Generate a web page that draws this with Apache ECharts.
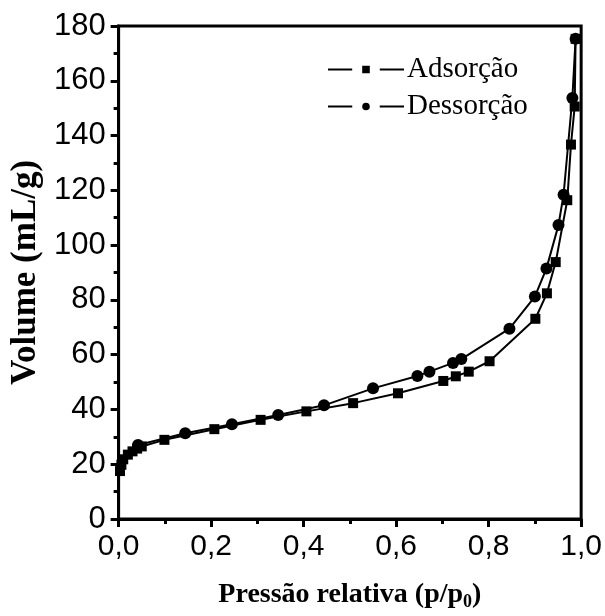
<!DOCTYPE html>
<html>
<head>
<meta charset="utf-8">
<script src="https://cdn.jsdelivr.net/npm/echarts@6/dist/echarts.min.js"></script>
<style>
  html, body { margin: 0; padding: 0; background: #fff; }
  #chart { width: 605px; height: 616px; }
</style>
</head>
<body>
<div id="chart"></div>
<script>
// Nitrogen isotherm: relative pressure (p/p0) vs adsorbed volume (mL/g)
const seriesNames = ['Adsorção', 'Dessorção'];

const adsorcaoP = [0.003, 0.006, 0.010, 0.020, 0.030, 0.040, 0.050, 0.099, 0.207, 0.307,
                   0.406, 0.507, 0.604, 0.702, 0.729, 0.757, 0.802, 0.901, 0.926, 0.945,
                   0.970, 0.978, 0.986, 0.988];
const adsorcaoV = [17.5, 19.8, 21.8, 23.5, 24.7, 25.7, 26.5, 28.9, 32.8, 36.2,
                   39.3, 42.3, 45.9, 50.4, 52.1, 53.8, 57.6, 73.1, 82.4, 93.8,
                   116.4, 136.7, 150.6, 175.3];

const dessorcaoP = [0.988, 0.981, 0.962, 0.951, 0.925, 0.900, 0.845, 0.741, 0.723, 0.672,
                    0.646, 0.550, 0.444, 0.345, 0.245, 0.144, 0.042];
const dessorcaoV = [175.3, 153.7, 118.4, 107.3, 91.5, 81.2, 69.5, 58.4, 57.0, 53.8,
                    52.2, 47.7, 41.5, 38.0, 34.6, 31.3, 27.0];

const xTicks = [0, 0.2, 0.4, 0.6, 0.8, 1.0];
const yTicks = [0, 20, 40, 60, 80, 100, 120, 140, 160, 180];

const pairs = (xs, ys) => xs.map((x, i) => [x, ys[i]]);

const sans = 'Liberation Sans, Arial, sans-serif';
const serif = 'Liberation Serif, Times New Roman, serif';

const chart = echarts.init(document.getElementById('chart'), null, { renderer: 'canvas' });

chart.setOption({
  backgroundColor: '#fff',
  animation: false,
  grid: {
    left: 116, right: 22, top: 26, bottom: 96,
    show: true, borderColor: '#000', borderWidth: 3, backgroundColor: 'transparent'
  },
  legend: {
    left: 327, top: 55, orient: 'vertical', padding: 0,
    itemWidth: 76, itemHeight: 22, itemGap: 8,
    textStyle: { fontFamily: serif, fontSize: 29, color: '#000', padding: [0, 0, 0, -2] },
    itemStyle: { borderColor: '#fff', borderWidth: 10 },
    data: seriesNames
  },
  xAxis: {
    type: 'value', min: xTicks[0], max: xTicks[xTicks.length - 1], interval: 0.2,
    name: 'Pressão relativa (p/p{sub|0})',
    nameLocation: 'middle', nameGap: 60,
    nameTextStyle: {
      fontFamily: serif, fontSize: 28, fontWeight: 'bold', color: '#000',
      rich: { sub: { fontFamily: serif, fontSize: 18, fontWeight: 'bold', color: '#000', verticalAlign: 'bottom', padding: [14, 0, 0, 0] } }
    },
    axisLine: { lineStyle: { color: '#000', width: 3 } },
    axisTick: { show: true, inside: false, length: 8, lineStyle: { color: '#000', width: 3 } },
    minorTick: { show: true, splitNumber: 2, length: 5, lineStyle: { color: '#000', width: 3 } },
    splitLine: { show: false },
    axisLabel: {
      fontFamily: sans, fontSize: 30, color: '#000', margin: 13,
      formatter: v => v.toFixed(1).replace('.', ',')
    }
  },
  yAxis: {
    type: 'value', min: yTicks[0], max: yTicks[yTicks.length - 1], interval: 20,
    name: 'Volume (mL/g)',
    nameLocation: 'middle', nameGap: 68, nameRotate: 90,
    nameTextStyle: { fontFamily: serif, fontSize: 35, fontWeight: 'bold', color: '#000' },
    axisLine: { lineStyle: { color: '#000', width: 3 } },
    axisTick: { show: true, inside: false, length: 8, lineStyle: { color: '#000', width: 3 } },
    minorTick: { show: true, splitNumber: 2, length: 5, lineStyle: { color: '#000', width: 3 } },
    splitLine: { show: false },
    axisLabel: { fontFamily: sans, fontSize: 31, color: '#000', margin: 13 }
  },
  series: [
    {
      name: seriesNames[0], type: 'line', data: pairs(adsorcaoP, adsorcaoV),
      symbol: 'rect', symbolSize: 10, showAllSymbol: true,
      lineStyle: { color: '#000', width: 2 },
      itemStyle: { color: '#000' }
    },
    {
      name: seriesNames[1], type: 'line', data: pairs(dessorcaoP, dessorcaoV),
      symbol: 'circle', symbolSize: 12, showAllSymbol: true,
      lineStyle: { color: '#000', width: 2 },
      itemStyle: { color: '#000' }
    }
  ]
});
</script>
</body>
</html>
